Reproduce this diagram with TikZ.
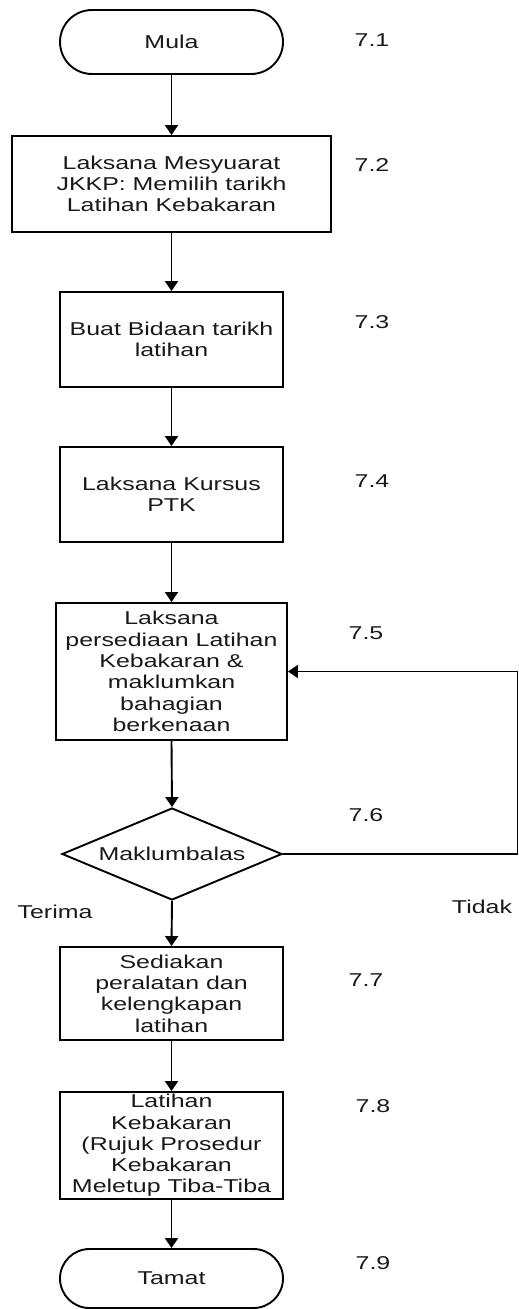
\documentclass[tikz,border=0pt]{standalone}
\usepackage{fontspec}
\setmainfont{Liberation Sans}[FakeStretch=1.34]
\usetikzlibrary{arrows.meta,shapes.geometric,shapes.misc}
\definecolor{txt}{RGB}{25,25,25}
\begin{document}
\begin{tikzpicture}[x=1pt,y=-1pt,
  every node/.style={font=\fontsize{18.6}{21.3}\selectfont, text=txt},
  boxnode/.style={draw=black, line width=1.9pt, rectangle, inner sep=0pt, align=center, minimum width=223pt},
  term/.style={draw=black, line width=1.9pt, rounded rectangle, inner sep=0pt, minimum width=223pt},
  decision/.style={draw=black, line width=1.9pt, diamond, aspect=2.4, inner sep=0pt, minimum width=220pt, minimum height=92pt},
  conn/.style={line width=1.9pt, -{Triangle[length=10pt,width=13pt]}},
  num/.style={inner sep=0pt}]
\useasboundingbox (0,0) rectangle (519,1309);

% main nodes
\node[term, minimum height=64pt] (mula) at (171.5,42) {Mula};
\node[boxnode, minimum width=319pt, minimum height=96pt] (b2) at (171.5,184) {Laksana Mesyuarat\\JKKP: Memilih tarikh\\Latihan Kebakaran};
\node[boxnode, minimum height=95pt] (b3) at (171.5,339.5) {Buat Bidaan tarikh\\latihan};
\node[boxnode, minimum height=95pt] (b4) at (171.5,494.5) {Laksana Kursus\\PTK};
\node[boxnode, minimum width=231pt, minimum height=137pt] (b5) at (171.5,671.5) {Laksana\\persediaan Latihan\\Kebakaran \&\\maklumkan\\bahagian\\berkenaan};
\node[decision] (dia) at (172,854) {Maklumbalas};
\node[boxnode, minimum height=93pt] (b7) at (171.5,993.5) {Sediakan\\peralatan dan\\kelengkapan\\latihan};
\node[boxnode, minimum height=107pt] (b8) at (171.5,1145.5) {Latihan\\Kebakaran\\(Rujuk Prosedur\\Kebakaran\\Meletup Tiba-Tiba};
\node[term, minimum height=59pt] (tamat) at (171.5,1278.5) {Tamat};

% step numbers
\node[num] (n1) at (372,40) {7.1};
\node[num] (n2) at (372,165) {7.2};
\node[num] (n3) at (372,322) {7.3};
\node[num] (n4) at (372,481) {7.4};
\node[num] (n5) at (366,633) {7.5};
\node[num] (n6) at (366,815) {7.6};
\node[num] (n7) at (366,980) {7.7};
\node[num] (n8) at (373,1106) {7.8};
\node[num] (n9) at (373,1263) {7.9};

% branch labels
\node[num] (terima) at (55,912) {Terima};
\node[num] (tidak) at (482,907) {Tidak};

% connectors
\draw[conn] (mula.south) -- (b2.north);
\draw[conn] (b2.south) -- (b3.north);
\draw[conn] (b3.south) -- (b4.north);
\draw[conn] (b4.south) -- (b5.north);
\draw[conn] (b5.south) -- (dia.north);
\draw[conn] (dia.south) -- (b7.north);
\draw[conn] (b7.south) -- (b8.north);
\draw[conn] (b8.south) -- (tamat.north);

\coordinate (fbA) at (517.5,854);
\coordinate (fbB) at (517.5,671.5);
\draw[conn] (dia.east) -- (fbA) -- (fbB) -- (b5.east);
\end{tikzpicture}
\end{document}
